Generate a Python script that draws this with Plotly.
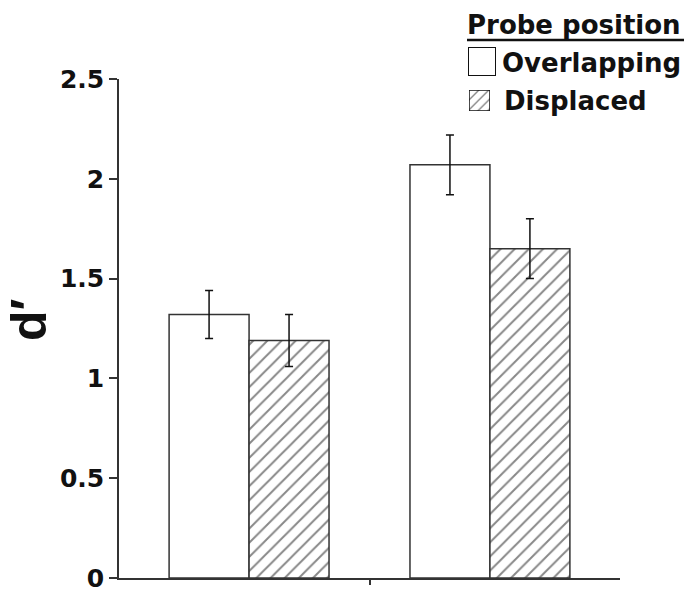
import plotly.graph_objects as go

W, H = 693, 596

groups = [0, 1]
overlapping = [1.32, 2.07]
overlapping_err = [0.12, 0.15]
displaced = [1.19, 1.65]
displaced_err = [0.13, 0.15]
yticks = [0, 0.5, 1, 1.5, 2, 2.5]
yticklabels = ["0", "0.5", "1", "1.5", "2", "2.5"]
legend_title = "Probe position"
series_names = ["Overlapping", "Displaced"]

LINE = "#333333"
bw = 0.332

fig = go.Figure()
fig.add_trace(go.Bar(
    x=[g - bw / 2 for g in groups], y=overlapping, width=bw, name=series_names[0],
    marker=dict(color="white", line=dict(color=LINE, width=1.5)),
    error_y=dict(type="data", array=overlapping_err, color="#111", thickness=1.5, width=4),
    showlegend=False,
))
fig.add_trace(go.Bar(
    x=[g + bw / 2 for g in groups], y=displaced, width=bw, name=series_names[1],
    marker=dict(color="white", line=dict(color=LINE, width=1.5),
                pattern=dict(shape="/", size=10, solidity=0.2, fgcolor="#111", bgcolor="white")),
    error_y=dict(type="data", array=displaced_err, color="#111", thickness=1.5, width=4),
    showlegend=False,
))

# legend swatches as bars on small axes
fig.add_trace(go.Bar(x=[0], y=[1], width=1, xaxis="x2", yaxis="y2", showlegend=False,
                     cliponaxis=False, hoverinfo="skip",
                     marker=dict(color="white", line=dict(color="#111", width=2))))
fig.add_trace(go.Bar(x=[0], y=[1], width=1, xaxis="x3", yaxis="y3", showlegend=False,
                     cliponaxis=False, hoverinfo="skip",
                     marker=dict(color="white", line=dict(color="#111", width=1.5),
                                 pattern=dict(shape="/", size=7, solidity=0.2, fgcolor="#111", bgcolor="white"))))

def px_x(x0, x1):
    return [x0 / W, x1 / W]

def px_y(y0, y1):  # y0 top, y1 bottom in pixels
    return [(H - y1) / H, (H - y0) / H]

hidden = dict(visible=False, fixedrange=True, automargin=False)
fig.update_layout(
    width=W, height=H,
    margin=dict(l=0, r=0, t=0, b=0, autoexpand=False),
    paper_bgcolor="white", plot_bgcolor="white",
    barmode="overlay",
    xaxis=dict(domain=px_x(119, 620), range=[-0.54, 1.54], showgrid=False, zeroline=False,
               showline=True, linecolor=LINE, linewidth=1.5, automargin=False,
               tickvals=[0.5], ticktext=[""], ticks="outside", ticklen=5, tickwidth=1.5, tickcolor=LINE),
    yaxis=dict(domain=px_y(79, 578), range=[0, 2.5], showgrid=False, zeroline=False,
               showline=True, linecolor=LINE, linewidth=1.5, automargin=False,
               tickvals=yticks, ticktext=yticklabels, ticks="outside", ticklen=8, tickwidth=1.5,
               tickcolor=LINE,
               tickfont=dict(family="DejaVu Sans", size=25, weight="bold", color="#111")),
    xaxis2=dict(domain=px_x(468, 496), range=[-0.5, 0.5], anchor="y2", **hidden),
    yaxis2=dict(domain=px_y(47, 76), range=[0, 1], anchor="x2", **hidden),
    xaxis3=dict(domain=px_x(469, 490), range=[-0.5, 0.5], anchor="y3", **hidden),
    yaxis3=dict(domain=px_y(90, 111), range=[0, 1], anchor="x3", **hidden),
)

legend_font = dict(family="DejaVu Sans", size=26, weight="bold", color="#111")
fig.add_annotation(x=466 / W, y=(H - 25) / H, xref="paper", yref="paper", xanchor="left", yanchor="middle",
                   text=legend_title, showarrow=False, font=legend_font, borderpad=0)
fig.add_shape(type="line", xref="paper", yref="paper", x0=467 / W, x1=684 / W,
              y0=(H - 40) / H, y1=(H - 40) / H, line=dict(color="#111", width=2.5))
fig.add_annotation(x=501 / W, y=(H - 63) / H, xref="paper", yref="paper", xanchor="left", yanchor="middle",
                   text=series_names[0], showarrow=False, font=legend_font, borderpad=0)
fig.add_annotation(x=503 / W, y=(H - 101) / H, xref="paper", yref="paper", xanchor="left", yanchor="middle",
                   text=series_names[1], showarrow=False, font=legend_font, borderpad=0)

# y-axis title
fig.add_annotation(x=0, y=(H - 320) / H, xref="paper", yref="paper", xanchor="left", yanchor="middle",
                   text="d′", textangle=-90, showarrow=False, borderpad=0,
                   font=dict(family="Liberation Sans", size=50, weight="bold", color="#111"))

fig.write_html("out.html", config={"displayModeBar": False},
               post_script="document.body.style.margin='0';document.body.style.overflow='hidden';")
